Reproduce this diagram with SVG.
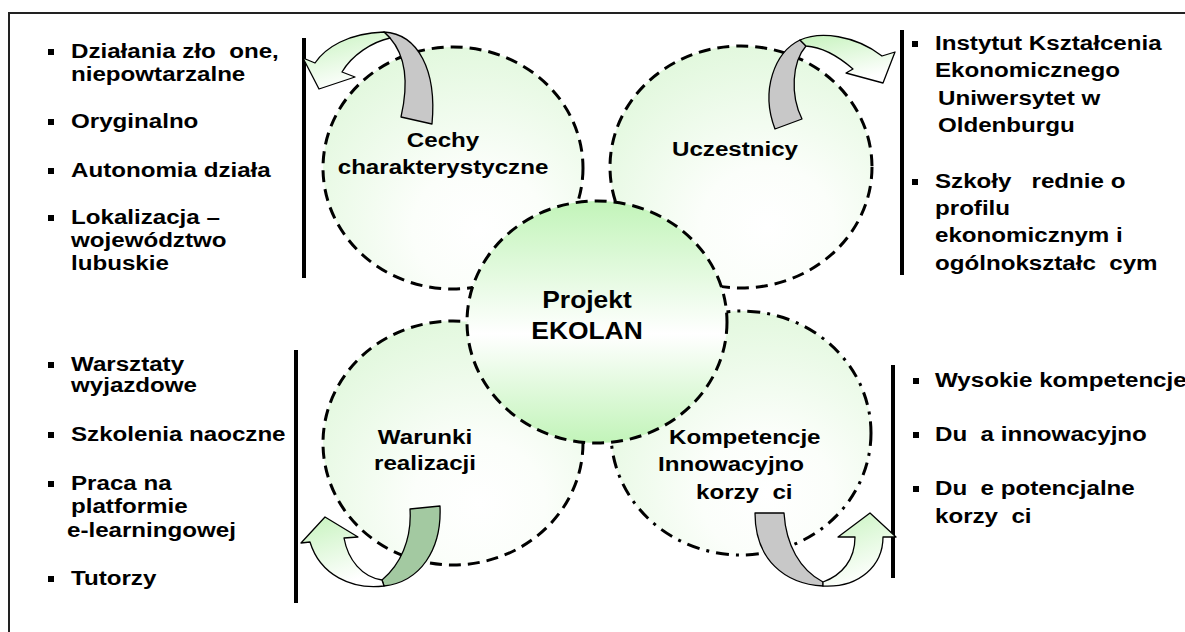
<svg xmlns="http://www.w3.org/2000/svg" width="1185" height="632" viewBox="0 0 1185 632">
<defs>
<style>
.t{font-family:"Liberation Sans",Arial,sans-serif;font-weight:bold;font-size:21px;fill:#000}
.tc{font-family:"Liberation Sans",Arial,sans-serif;font-weight:bold;font-size:21px;fill:#000;text-anchor:middle}
.tp{font-family:"Liberation Sans",Arial,sans-serif;font-weight:bold;font-size:24px;fill:#000;text-anchor:middle}
.circ{fill:url(#gOuter);stroke:#000;stroke-width:3;stroke-dasharray:12 7}
.dd{stroke-dasharray:13 7 3 7}
.ctr{fill:url(#gCenter);stroke:#000;stroke-width:3;stroke-dasharray:12 7}
.vl{stroke:#000;stroke-width:4}
.bul{fill:#000}
.af{fill:url(#gArrow);stroke:#000;stroke-width:1.3;stroke-linejoin:round}
.ag{fill:#c8c8c8;stroke:#000;stroke-width:1.3;stroke-linejoin:round}
.adg{fill:#a3c9a1;stroke:#000;stroke-width:1.3;stroke-linejoin:round}
</style>
<radialGradient id="gOuter" cx="60%" cy="75%" r="85%">
<stop offset="0" stop-color="#ffffff"/>
<stop offset="0.3" stop-color="#fbfefa"/>
<stop offset="1" stop-color="#def7d9"/>
</radialGradient>
<linearGradient id="gCenter" x1="0" y1="0" x2="0" y2="1">
<stop offset="0" stop-color="#c2f4b9"/>
<stop offset="0.55" stop-color="#ffffff"/>
<stop offset="1" stop-color="#c2f4b9"/>
</linearGradient>
<linearGradient id="gArrow" x1="0" y1="0" x2="0.4" y2="1">
<stop offset="0" stop-color="#c6f3bd"/>
<stop offset="1" stop-color="#ffffff"/>
</linearGradient>
</defs>
<rect x="0" y="0" width="1185" height="632" fill="#ffffff"/>
<path d="M9,640 V13 H1195" fill="none" stroke="#222" stroke-width="2"/>

<g id="node-cechy">
<ellipse class="circ" cx="453" cy="168" rx="130" ry="121"/>
<text class="tc" transform="translate(443 0) scale(1.15 1)"><tspan x="0" y="147">Cechy</tspan><tspan x="0" y="174">charakterystyczne</tspan></text>
</g>
<g id="node-uczestnicy">
<ellipse class="circ" cx="741" cy="167" rx="131" ry="121"/>
<text class="tc" transform="translate(735 0) scale(1.15 1)"><tspan x="0" y="156">Uczestnicy</tspan></text>
</g>
<g id="node-warunki">
<ellipse class="circ" cx="453" cy="443" rx="130" ry="122"/>
<text class="tc" transform="translate(425 0) scale(1.15 1)"><tspan x="0" y="444">Warunki</tspan><tspan x="0" y="470">realizacji</tspan></text>
</g>
<g id="node-kompetencje">
<ellipse class="circ dd" cx="741" cy="433" rx="130" ry="122"/>
<text class="t" xml:space="preserve" transform="translate(669 0) scale(1.15 1)"><tspan x="0" y="444">Kompetencje</tspan><tspan x="-9.6" y="471">Innowacyjno</tspan><tspan x="23.5" y="499">korzy  ci</tspan></text>
</g>
<g id="node-projekt">
<ellipse class="ctr" cx="597" cy="322" rx="130" ry="121"/>
<text class="tp" transform="translate(587 0) scale(1.1 1)"><tspan x="0" y="308">Projekt</tspan><tspan x="0" y="339">EKOLAN</tspan></text>
</g>

<g id="list-cechy">
<line class="vl" x1="304" y1="38" x2="304" y2="278"/>
<rect class="bul" x="48" y="49" width="6" height="6"/>
<rect class="bul" x="48" y="119" width="6" height="6"/>
<rect class="bul" x="48" y="168" width="6" height="6"/>
<rect class="bul" x="48" y="215" width="6" height="6"/>
<text class="t" xml:space="preserve" transform="translate(71 0) scale(1.15 1)"><tspan x="0" y="58">Działania zło  one,</tspan><tspan x="0" y="81">niepowtarzalne</tspan><tspan x="0" y="128">Oryginalno</tspan><tspan x="0" y="177">Autonomia działa</tspan><tspan x="0" y="224">Lokalizacja –</tspan><tspan x="0" y="247">województwo</tspan><tspan x="0" y="270">lubuskie</tspan></text>
</g>
<g id="list-uczestnicy">
<line class="vl" x1="902" y1="30" x2="902" y2="275"/>
<rect class="bul" x="912" y="41" width="6" height="6"/>
<rect class="bul" x="912" y="179" width="6" height="6"/>
<text class="t" xml:space="preserve" transform="translate(935 0) scale(1.15 1)"><tspan x="0" y="50">Instytut Kształcenia</tspan><tspan x="0" y="77">Ekonomicznego</tspan><tspan x="2.6" y="105">Uniwersytet w</tspan><tspan x="2.6" y="132">Oldenburgu</tspan><tspan x="0" y="188">Szkoły   rednie o</tspan><tspan x="0" y="215">profilu</tspan><tspan x="0" y="242">ekonomicznym i</tspan><tspan x="0" y="270">ogólnokształc  cym</tspan></text>
</g>
<g id="list-warunki">
<line class="vl" x1="296" y1="350" x2="296" y2="603"/>
<rect class="bul" x="48" y="362" width="6" height="6"/>
<rect class="bul" x="48" y="432" width="6" height="6"/>
<rect class="bul" x="48" y="481" width="6" height="6"/>
<rect class="bul" x="48" y="576" width="6" height="6"/>
<text class="t" transform="translate(71 0) scale(1.15 1)"><tspan x="0" y="371">Warsztaty</tspan><tspan x="0" y="392">wyjazdowe</tspan><tspan x="0" y="441">Szkolenia naoczne</tspan><tspan x="0" y="490">Praca na</tspan><tspan x="0" y="513">platformie</tspan><tspan x="-3.5" y="537">e-learningowej</tspan><tspan x="0" y="585">Tutorzy</tspan></text>
</g>
<g id="list-kompetencje">
<line class="vl" x1="893" y1="365" x2="893" y2="578"/>
<rect class="bul" x="913" y="378" width="6" height="6"/>
<rect class="bul" x="913" y="432" width="6" height="6"/>
<rect class="bul" x="913" y="486" width="6" height="6"/>
<text class="t" xml:space="preserve" transform="translate(935 0) scale(1.15 1)"><tspan x="0" y="387">Wysokie kompetencje</tspan><tspan x="0" y="441">Du  a innowacyjno</tspan><tspan x="0" y="495">Du  e potencjalne</tspan><tspan x="0" y="523">korzy  ci</tspan></text>
</g>

<g id="connectors">
<path class="ag" d="M384,32 C418,34 437,70 432,124 L401,117 C409,82 405,55 390,38 Z"/>
<path class="af" d="M303,58 L315,63 C325,48 348,33 384,32 L390,38 C372,42 352,55 342,72 L355,77 L319,89 Z"/>
<path class="ag" d="M800,40 C775,52 760,90 775,129 L802,119 C790,95 792,62 806,46 Z"/>
<path class="af" d="M895,52 L883,83 L846,73 L853,69 C838,56 822,47 806,46 L800,40 C820,31 855,35 882,56 Z"/>
<path class="adg" d="M382,580 C400,565 412,540 410,509 L440,506 C442,550 420,582 384,586 Z"/>
<path class="af" d="M301,543 L325,517 L358,537 L344,538 C348,560 362,577 382,580 L384,586 C352,590 320,575 310,542 Z"/>
<path class="ag" d="M755,513 L784,513 C786,545 800,570 823,582 L823,586 C785,584 755,560 755,513 Z"/>
<path class="af" d="M823,582 C842,575 855,560 855,537 L838,537 L870,513 L896,537 L883,537 C883,565 860,588 823,586 Z"/>
</g>
</svg>
